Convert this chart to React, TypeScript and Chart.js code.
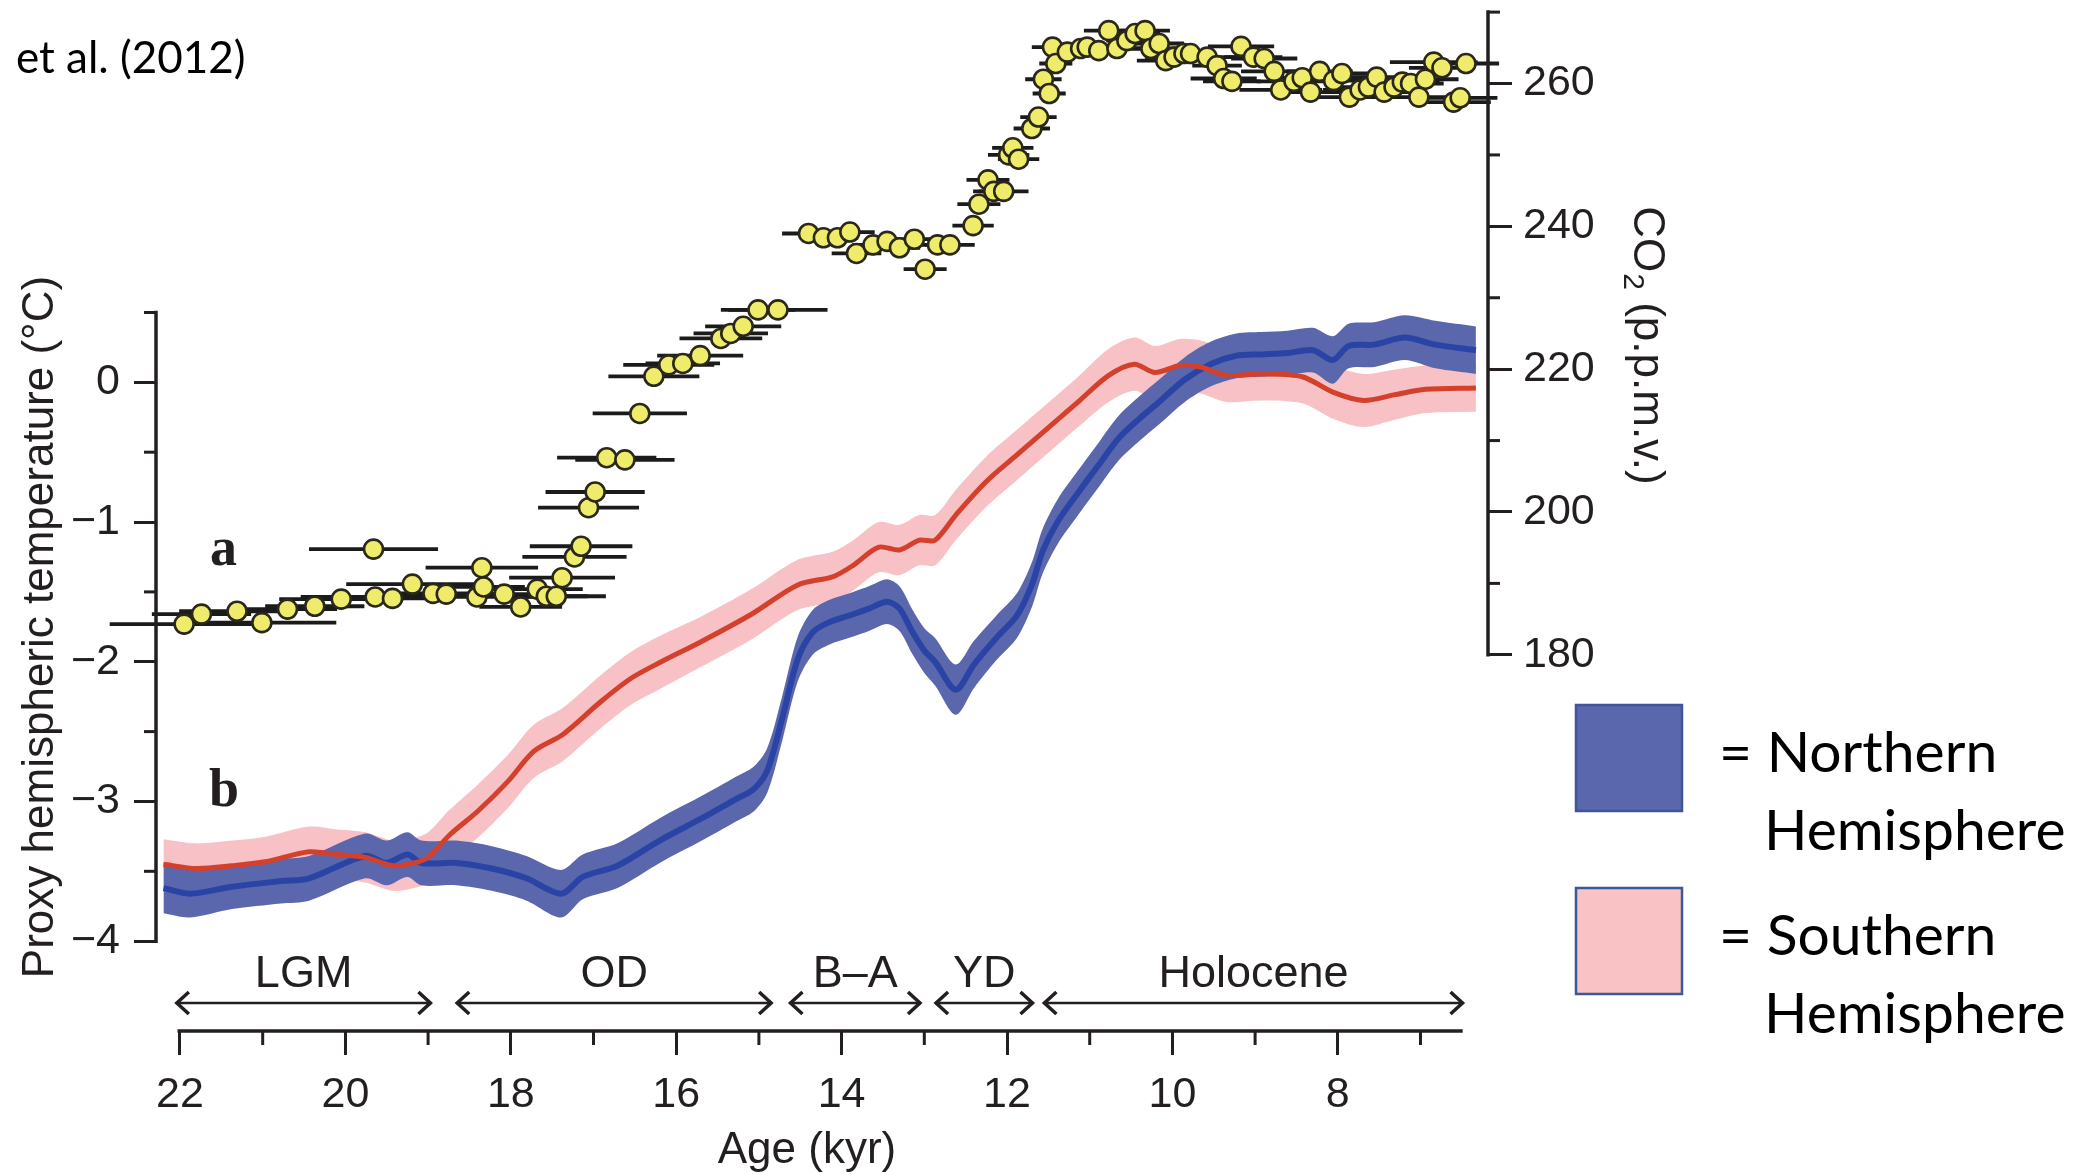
import React, { useEffect, useRef } from 'react';
import { Chart, registerables } from 'chart.js';

Chart.register(...registerables);

// ---------- data ----------
// Northern Hemisphere proxy temperature (kyr BP, °C) and 1-sigma half width
const NH_AGE = [22.2, 21.88, 21.37, 20.78, 20.44, 19.76, 19.5, 19.25, 19.08, 18.66, 18.23, 17.81, 17.39, 17.13, 16.71, 16.2, 15.69, 15.3, 15.06, 14.9, 14.72, 14.53, 14.35, 14.16, 13.86, 13.67, 13.45, 13.3, 13.15, 13.0, 12.87, 12.62, 12.4, 12.13, 11.88, 11.7, 11.57, 11.39, 11.14, 10.89, 10.65, 10.4, 10.16, 9.85, 9.54, 9.23, 8.92, 8.61, 8.3, 8.06, 7.87, 7.56, 7.19, 6.82, 6.33];
const NH_TEMP = [-3.62, -3.66, -3.61, -3.57, -3.55, -3.39, -3.44, -3.38, -3.44, -3.44, -3.48, -3.55, -3.66, -3.54, -3.46, -3.28, -3.12, -2.99, -2.91, -2.78, -2.41, -1.98, -1.79, -1.72, -1.66, -1.62, -1.57, -1.62, -1.78, -1.92, -2.0, -2.2, -2.02, -1.83, -1.67, -1.45, -1.21, -1.0, -0.79, -0.59, -0.4, -0.26, -0.14, 0.02, 0.13, 0.19, 0.2, 0.21, 0.23, 0.16, 0.26, 0.27, 0.32, 0.27, 0.23];
const NH_SIGMA = [0.18, 0.17, 0.16, 0.16, 0.16, 0.16, 0.16, 0.16, 0.16, 0.16, 0.16, 0.16, 0.17, 0.16, 0.16, 0.16, 0.16, 0.16, 0.16, 0.16, 0.16, 0.16, 0.16, 0.16, 0.16, 0.16, 0.16, 0.16, 0.16, 0.16, 0.17, 0.18, 0.17, 0.16, 0.16, 0.16, 0.16, 0.16, 0.16, 0.16, 0.16, 0.16, 0.16, 0.16, 0.16, 0.16, 0.16, 0.16, 0.16, 0.17, 0.16, 0.16, 0.16, 0.17, 0.17];

// Southern Hemisphere proxy temperature
const SH_AGE = [22.2, 21.8, 21.37, 20.95, 20.44, 20.1, 19.76, 19.42, 19.17, 19.0, 18.74, 18.4, 18.04, 17.72, 17.37, 16.92, 16.55, 16.18, 15.71, 15.09, 14.53, 14.1, 13.86, 13.55, 13.3, 13.06, 12.87, 12.62, 12.25, 11.88, 11.51, 11.14, 10.77, 10.46, 10.21, 9.91, 9.66, 9.35, 8.92, 8.43, 8.06, 7.69, 7.32, 6.94, 6.33];
const SH_TEMP = [-3.45, -3.48, -3.46, -3.43, -3.36, -3.38, -3.4, -3.46, -3.44, -3.4, -3.24, -3.07, -2.86, -2.64, -2.52, -2.29, -2.12, -2.0, -1.86, -1.66, -1.45, -1.39, -1.31, -1.18, -1.2, -1.13, -1.13, -0.95, -0.71, -0.52, -0.33, -0.14, 0.05, 0.13, 0.07, 0.12, 0.11, 0.05, 0.06, 0.04, -0.07, -0.13, -0.09, -0.05, -0.04];
const SH_SIGMA = [0.18, 0.18, 0.18, 0.18, 0.18, 0.18, 0.18, 0.18, 0.18, 0.18, 0.18, 0.19, 0.19, 0.19, 0.19, 0.19, 0.19, 0.19, 0.18, 0.18, 0.18, 0.18, 0.18, 0.18, 0.18, 0.18, 0.18, 0.18, 0.18, 0.18, 0.18, 0.18, 0.19, 0.19, 0.19, 0.19, 0.19, 0.19, 0.19, 0.19, 0.19, 0.19, 0.18, 0.17, 0.17];

// Antarctic CO2 (kyr BP, p.p.m.v., age error half width in kyr)
const CO2_AGE = [21.95, 21.74, 21.31, 21.01, 20.7, 20.37, 20.05, 19.66, 19.64, 19.43, 19.19, 18.94, 18.78, 18.41, 18.35, 18.33, 18.08, 17.88, 17.68, 17.57, 17.45, 17.38, 17.23, 17.15, 17.06, 16.98, 16.84, 16.62, 16.44, 16.27, 16.09, 15.92, 15.71, 15.46, 15.34, 15.19, 15.01, 14.77, 14.4, 14.22, 14.05, 13.9, 13.82, 13.62, 13.45, 13.3, 13.12, 12.99, 12.84, 12.69, 12.41, 12.34, 12.23, 12.16, 12.04, 11.98, 11.93, 11.86, 11.7, 11.62, 11.56, 11.49, 11.45, 11.41, 11.27, 11.11, 11.03, 10.89, 10.77, 10.67, 10.55, 10.45, 10.33, 10.26, 10.16, 10.08, 9.98, 9.86, 9.78, 9.58, 9.46, 9.38, 9.28, 9.17, 9.02, 8.89, 8.77, 8.69, 8.53, 8.43, 8.33, 8.22, 8.05, 7.95, 7.86, 7.73, 7.63, 7.53, 7.44, 7.32, 7.22, 7.12, 7.02, 6.94, 6.84, 6.74, 6.6, 6.52, 6.45];
const CO2_PPM = [184.3, 185.7, 186.1, 184.5, 186.4, 186.8, 187.8, 194.8, 188.1, 187.9, 189.9, 188.6, 188.5, 188.1, 192.2, 189.5, 188.5, 186.7, 189.2, 188.2, 188.2, 190.8, 193.7, 195.2, 200.6, 202.8, 207.6, 207.3, 213.8, 219.0, 220.6, 220.8, 221.9, 224.3, 225.0, 226.0, 228.3, 228.3, 239.0, 238.4, 238.4, 239.2, 236.2, 237.4, 237.9, 237.0, 238.2, 234.0, 237.4, 237.4, 240.1, 243.1, 246.5, 244.9, 244.9, 250.0, 251.0, 249.4, 253.7, 255.3, 260.6, 258.6, 265.1, 262.8, 264.4, 264.9, 265.1, 264.6, 267.4, 264.9, 266.0, 267.0, 267.4, 264.9, 265.6, 263.2, 263.7, 264.2, 264.2, 263.7, 262.5, 260.7, 260.3, 265.2, 263.7, 263.5, 261.7, 259.1, 260.3, 260.8, 258.8, 261.7, 260.4, 261.4, 258.1, 259.1, 259.5, 260.9, 258.8, 259.5, 260.2, 260.0, 258.1, 260.6, 263.0, 262.2, 257.4, 258.0, 262.8];
const CO2_ERR = [0.9, 0.6, 0.7, 0.9, 0.6, 0.6, 0.75, 0.78, 0.9, 0.6, 0.8, 0.6, 0.6, 0.7, 0.68, 0.5, 0.6, 0.5, 0.55, 0.5, 0.6, 0.64, 0.63, 0.62, 0.61, 0.6, 0.6, 0.6, 0.57, 0.55, 0.55, 0.45, 0.52, 0.5, 0.45, 0.46, 0.45, 0.6, 0.32, 0.25, 0.25, 0.3, 0.3, 0.25, 0.25, 0.25, 0.25, 0.26, 0.25, 0.3, 0.25, 0.26, 0.26, 0.25, 0.3, 0.25, 0.25, 0.25, 0.22, 0.22, 0.22, 0.2, 0.25, 0.2, 0.25, 0.25, 0.25, 0.3, 0.3, 0.3, 0.25, 0.3, 0.3, 0.35, 0.3, 0.35, 0.35, 0.3, 0.3, 0.35, 0.3, 0.4, 0.35, 0.4, 0.35, 0.4, 0.4, 0.5, 0.45, 0.4, 0.45, 0.4, 0.45, 0.4, 0.5, 0.45, 0.4, 0.4, 0.45, 0.4, 0.45, 0.4, 0.45, 0.4, 0.53, 0.4, 0.45, 0.45, 0.4];

// axes
const AGE_TICKS = [22, 21, 20, 19, 18, 17, 16, 15, 14, 13, 12, 11, 10, 9, 8, 7];
const AGE_LABELED = [22, 20, 18, 16, 14, 12, 10, 8];
const AGE_LABELS = ['22', '20', '18', '16', '14', '12', '10', '8'];
const TEMP_TICKS = [-4, -3.5, -3, -2.5, -2, -1.5, -1, -0.5, 0, 0.5];
const TEMP_LABELED = [-4, -3, -2, -1, 0];
const TEMP_LABELS = ['\u22124', '\u22123', '\u22122', '\u22121', '0'];
const CO2_TICKS = [180, 190, 200, 210, 220, 230, 240, 250, 260, 270];
const CO2_LABELED = [180, 200, 220, 240, 260];
const CO2_LABELS = ['180', '200', '220', '240', '260'];
const AGE_AXIS_EXTENT = [22.03, 6.49];

// climate periods
const PERIOD_NAMES = ['LGM', 'OD', 'B\u2013A', 'YD', 'Holocene'];
const PERIOD_START = [22.05, 18.66, 14.63, 12.87, 11.56];
const PERIOD_END = [18.96, 14.84, 13.04, 11.68, 6.48];

const LEGEND_LINES = [['= Northern', 'Hemisphere'], ['= Southern', 'Hemisphere']];
const SOURCE_TEXT = 'et al. (2012)';

// ---------- styles ----------
const INK = '#231f20';
const BLUE_BAND = '#5b67ad';
const BLUE_LINE = '#2a44a6';
const PINK_BAND = '#f8c1c5';
const RED_LINE = '#d3402b';
const SANS = '"Liberation Sans", Arial, Helvetica, sans-serif';

const W = 2092;
const H = 1174;

const zeroPad = (s: any) => {
  s.paddingTop = 0;
  s.paddingBottom = 0;
  s.paddingLeft = 0;
  s.paddingRight = 0;
};

const annotate = {
  id: 'annotate',
  beforeDatasetDraw(chart: any, args: any) {
    if (args.index !== 0) return;
    const ctx = chart.ctx;
    const xs = chart.scales.x;
    const yc = chart.scales.y2;
    ctx.save();
    ctx.strokeStyle = '#1b1b1b';
    ctx.lineWidth = 3.8;
    CO2_AGE.forEach((a, i) => {
      const y = yc.getPixelForValue(CO2_PPM[i]);
      ctx.beginPath();
      ctx.moveTo(xs.getPixelForValue(a + CO2_ERR[i]), y);
      ctx.lineTo(xs.getPixelForValue(a - CO2_ERR[i]), y);
      ctx.stroke();
    });
    ctx.restore();
  },
  afterDraw(chart: any) {
    const ctx = chart.ctx;
    const xs = chart.scales.x;
    const yt = chart.scales.y;
    const yc = chart.scales.y2;
    const area = chart.chartArea;
    ctx.save();
    ctx.strokeStyle = INK;
    ctx.fillStyle = INK;

    // axis lines
    ctx.lineWidth = 3.5;
    ctx.lineCap = 'square';
    ctx.beginPath();
    ctx.moveTo(area.left, yt.getPixelForValue(TEMP_TICKS[0]));
    ctx.lineTo(area.left, yt.getPixelForValue(TEMP_TICKS[TEMP_TICKS.length - 1]));
    ctx.stroke();
    ctx.beginPath();
    ctx.moveTo(area.right, yc.getPixelForValue(CO2_TICKS[0]));
    ctx.lineTo(area.right, yc.getPixelForValue(CO2_TICKS[CO2_TICKS.length - 1]));
    ctx.stroke();
    ctx.lineCap = 'butt';
    ctx.beginPath();
    ctx.moveTo(xs.getPixelForValue(AGE_AXIS_EXTENT[0]), area.bottom);
    ctx.lineTo(xs.getPixelForValue(AGE_AXIS_EXTENT[1]), area.bottom);
    ctx.stroke();

    // minor ticks
    ctx.lineWidth = 3;
    TEMP_TICKS.filter(v => !TEMP_LABELED.includes(v)).forEach(v => {
      const y = yt.getPixelForValue(v);
      ctx.beginPath(); ctx.moveTo(area.left - 12, y); ctx.lineTo(area.left, y); ctx.stroke();
    });
    CO2_TICKS.filter(v => !CO2_LABELED.includes(v)).forEach(v => {
      const y = yc.getPixelForValue(v);
      ctx.beginPath(); ctx.moveTo(area.right, y); ctx.lineTo(area.right + 12, y); ctx.stroke();
    });
    AGE_TICKS.filter(v => !AGE_LABELED.includes(v)).forEach(v => {
      const x = xs.getPixelForValue(v);
      ctx.beginPath(); ctx.moveTo(x, area.bottom); ctx.lineTo(x, area.bottom + 14); ctx.stroke();
    });

    // axis titles
    ctx.font = `44px ${SANS}`;
    ctx.textAlign = 'center';
    ctx.textBaseline = 'alphabetic';
    ctx.fillText('Age (kyr)', 807, 1163);

    ctx.save();
    ctx.translate(53, 627);
    ctx.rotate(-Math.PI / 2);
    ctx.fillText('Proxy hemispheric temperature (\u00b0C)', 0, 0);
    ctx.restore();

    ctx.save();
    ctx.translate(1634, 345);
    ctx.rotate(Math.PI / 2);
    ctx.textAlign = 'left';
    const big = `44px ${SANS}`;
    const small = `30px ${SANS}`;
    ctx.font = big;
    const wCO = ctx.measureText('CO').width;
    const rest = ' (p.p.m.v.)';
    const wRest = ctx.measureText(rest).width;
    ctx.font = small;
    const w2 = ctx.measureText('2').width;
    const x0 = -(wCO + w2 + wRest) / 2;
    ctx.font = big;
    ctx.fillText('CO', x0, 0);
    ctx.font = small;
    ctx.fillText('2', x0 + wCO + 1, 10);
    ctx.font = big;
    ctx.fillText(rest, x0 + wCO + w2 + 1, 0);
    ctx.restore();

    // period arrows
    const yArrow = 1003;
    ctx.font = `45px ${SANS}`;
    ctx.textAlign = 'center';
    PERIOD_NAMES.forEach((name, i) => {
      const xa = xs.getPixelForValue(PERIOD_START[i]);
      const xb = xs.getPixelForValue(PERIOD_END[i]);
      ctx.lineWidth = 2.5;
      ctx.beginPath(); ctx.moveTo(xa, yArrow); ctx.lineTo(xb, yArrow); ctx.stroke();
      ctx.lineWidth = 3.5;
      ctx.beginPath();
      ctx.moveTo(xa + 13, yArrow - 11); ctx.lineTo(xa + 1, yArrow); ctx.lineTo(xa + 13, yArrow + 11);
      ctx.moveTo(xb - 13, yArrow - 11); ctx.lineTo(xb - 1, yArrow); ctx.lineTo(xb - 13, yArrow + 11);
      ctx.stroke();
      ctx.fillText(name, (xa + xb) / 2, 987);
    });

    // panel letters
    ctx.textAlign = 'left';
    ctx.font = 'bold 54px "Liberation Serif", "Times New Roman", serif';
    ctx.fillText('a', 210, 565);
    ctx.fillText('b', 209, 806);

    // source note
    ctx.fillStyle = '#000';
    ctx.font = '44px Lato, "Open Sans", sans-serif';
    ctx.fillText(SOURCE_TEXT, 16, 73);

    // legend
    const boxes = [
      { fill: BLUE_BAND, stroke: '#3f5597', top: 705 },
      { fill: '#f9c2c5', stroke: '#3b5899', top: 888 },
    ];
    ctx.lineWidth = 2.5;
    boxes.forEach((b, i) => {
      ctx.fillStyle = b.fill;
      ctx.fillRect(1576, b.top, 106, 106);
      ctx.strokeStyle = b.stroke;
      ctx.strokeRect(1576, b.top, 106, 106);
      ctx.fillStyle = '#000';
      ctx.font = '57px Lato, "Open Sans", sans-serif';
      ctx.fillText(LEGEND_LINES[i][0], 1719, b.top + 67);
      ctx.fillText(LEGEND_LINES[i][1], 1764, b.top + 145);
    });
    ctx.restore();
  },
};

export default function App() {
  const ref = useRef<HTMLCanvasElement>(null);

  useEffect(() => {
    const canvas = ref.current;
    if (!canvas) return;
    const series = (ages: number[], vals: number[]) => ages.map((a, i) => ({ x: a, y: vals[i] }));
    const band = (ages: number[], vals: number[], sig: number[], s: number) =>
      ages.map((a, i) => ({ x: a, y: vals[i] + s * sig[i] }));

    const tickFont = { family: SANS, size: 43 };
    const lookup = (vals: number[], labels: string[]) => (v: any) => {
      const k = vals.indexOf(Number(v));
      return k >= 0 ? labels[k] : '';
    };

    const chart = new Chart(canvas, {
      type: 'line',
      data: {
        datasets: [
          {
            label: 'CO2',
            data: series(CO2_AGE, CO2_PPM),
            yAxisID: 'y2',
            showLine: false,
            pointRadius: 9.5,
            pointBackgroundColor: '#efec6c',
            pointBorderColor: '#2a2818',
            pointBorderWidth: 2.6,
            order: 0,
            clip: false,
          } as any,
          {
            label: 'Southern Hemisphere',
            data: series(SH_AGE, SH_TEMP),
            yAxisID: 'y',
            borderColor: RED_LINE,
            borderWidth: 5,
            pointRadius: 0,
            tension: 0.3,
            fill: false,
            order: 1,
          },
          {
            label: 'Northern Hemisphere',
            data: series(NH_AGE, NH_TEMP),
            yAxisID: 'y',
            borderColor: BLUE_LINE,
            borderWidth: 6,
            pointRadius: 0,
            tension: 0.3,
            fill: false,
            order: 2,
          },
          {
            label: 'NH lower',
            data: band(NH_AGE, NH_TEMP, NH_SIGMA, -1),
            yAxisID: 'y',
            borderColor: 'transparent',
            borderWidth: 1,
            pointRadius: 0,
            tension: 0.3,
            fill: false,
            order: 3,
          },
          {
            label: 'NH upper',
            data: band(NH_AGE, NH_TEMP, NH_SIGMA, 1),
            yAxisID: 'y',
            borderColor: 'transparent',
            borderWidth: 1,
            backgroundColor: BLUE_BAND,
            pointRadius: 0,
            tension: 0.3,
            fill: 3,
            order: 3,
          },
          {
            label: 'SH lower',
            data: band(SH_AGE, SH_TEMP, SH_SIGMA, -1),
            yAxisID: 'y',
            borderColor: 'transparent',
            borderWidth: 1,
            pointRadius: 0,
            tension: 0.3,
            fill: false,
            order: 5,
          },
          {
            label: 'SH upper',
            data: band(SH_AGE, SH_TEMP, SH_SIGMA, 1),
            yAxisID: 'y',
            borderColor: 'transparent',
            borderWidth: 1,
            backgroundColor: PINK_BAND,
            pointRadius: 0,
            tension: 0.3,
            fill: 5,
            order: 5,
          },
        ],
      },
      options: {
        responsive: false,
        animation: false,
        devicePixelRatio: 1,
        events: [],
        layout: { padding: { top: 10, left: 0, right: 0, bottom: 0 } },
        plugins: { legend: { display: false }, tooltip: { enabled: false } },
        scales: {
          x: {
            type: 'linear',
            position: 'bottom',
            reverse: true,
            min: 6.184,
            max: 22.29,
            afterBuildTicks: (s: any) => { s.ticks = AGE_LABELED.map(v => ({ value: v })); },
            afterFit: (s: any) => { s.height = H - 1031; zeroPad(s); },
            border: { display: false },
            grid: {
              drawOnChartArea: false,
              drawTicks: true,
              tickLength: 24,
              tickWidth: 3,
              tickColor: INK,
            },
            ticks: {
              autoSkip: false,
              maxRotation: 0,
              minRotation: 0,
              padding: 14,
              color: INK,
              font: tickFont,
              callback: lookup(AGE_LABELED, AGE_LABELS),
            },
          },
          y: {
            type: 'linear',
            position: 'left',
            min: -4.643,
            max: 2.65,
            afterBuildTicks: (s: any) => { s.ticks = TEMP_LABELED.map(v => ({ value: v })); },
            afterFit: (s: any) => { s.width = 156; zeroPad(s); },
            border: { display: false },
            grid: {
              drawOnChartArea: false,
              drawTicks: true,
              tickLength: 22,
              tickWidth: 3,
              tickColor: INK,
            },
            ticks: {
              padding: 14,
              color: INK,
              font: tickFont,
              callback: lookup(TEMP_LABELED, TEMP_LABELS),
            },
          },
          y2: {
            type: 'linear',
            position: 'right',
            min: 127.32,
            max: 270.0,
            afterBuildTicks: (s: any) => { s.ticks = CO2_LABELED.map(v => ({ value: v })); },
            afterFit: (s: any) => { s.width = W - 1488; zeroPad(s); },
            border: { display: false },
            grid: {
              drawOnChartArea: false,
              drawTicks: true,
              tickLength: 24,
              tickWidth: 3,
              tickColor: INK,
            },
            ticks: {
              padding: 11,
              color: INK,
              font: tickFont,
              callback: lookup(CO2_LABELED, CO2_LABELS),
            },
          },
        },
      } as any,
      plugins: [annotate],
    });

    return () => chart.destroy();
  }, []);

  return (
    <div style={{ position: 'absolute', left: 0, top: 0, width: W, height: H, background: '#fff' }}>
      <canvas ref={ref} width={W} height={H} style={{ display: 'block', width: W, height: H }} />
    </div>
  );
}
